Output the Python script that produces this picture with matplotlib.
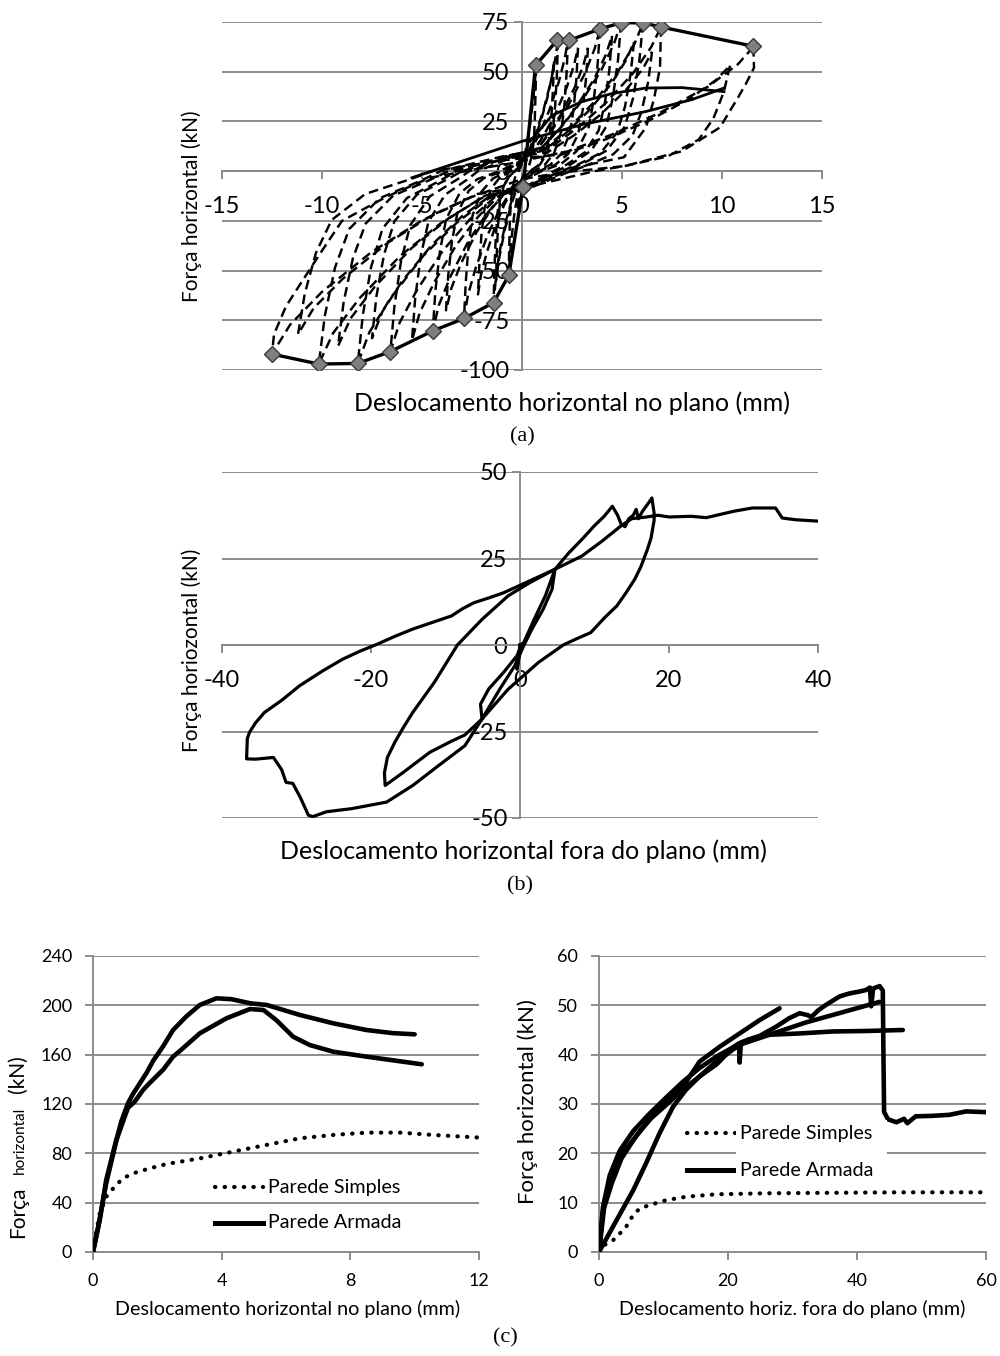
import matplotlib
matplotlib.use("Agg")
import matplotlib.pyplot as plt
from matplotlib.patches import Rectangle

plt.rcParams['font.family'] = ['Lato', 'DejaVu Sans']
plt.rcParams['axes.unicode_minus'] = False

W, H = 1000, 1356
GRID = '#8c8c8c'

# ---------------- panel (a): in-plane cyclic test ----------------
env_pos = [(0.05, -8), (0.68, 53.2), (1.77, 66), (2.33, 65.7), (3.9, 71.5),
           (4.95, 74.6), (6.05, 74.6), (6.95, 72.5), (11.57, 62.8)]
env_neg = [(0.05, -8), (-0.66, -52.4), (-1.42, -66.1), (-2.9, -74.1), (-4.46, -80.3),
           (-6.58, -90.7), (-8.21, -96.7), (-10.16, -97), (-12.5, -92)]

loop_1 = [(0.7, 53), (0.68, 39.8), (0.64, 26.5), (0.6, 15.9), (0.49, 7.4), (0.35, 2.7), (0.18, 0),
          (0.04, -2.6), (-0.13, -7.3), (-0.26, -14), (-0.4, -22.9), (-0.53, -34.3), (-0.61, -43.7),
          (-0.66, -52), (-0.64, -39), (-0.61, -26), (-0.56, -15.6), (-0.46, -7.3), (-0.33, -2.6),
          (-0.17, 0), (-0.03, 3.2), (0.14, 8.5), (0.28, 15.9), (0.42, 24.9), (0.56, 36),
          (0.65, 45.6), (0.7, 53)]
loop_2 = [(1.8, 66), (1.75, 49.5), (1.66, 33), (1.53, 19.8), (1.26, 9.2), (0.9, 3.3), (0.45, 0),
          (0.09, -3.3), (-0.28, -9.2), (-0.57, -17.8), (-0.85, -29), (-1.14, -43.6), (-1.32, -55.4),
          (-1.42, -66), (-1.38, -49.5), (-1.31, -33), (-1.21, -19.8), (-0.99, -9.2), (-0.71, -3.3),
          (-0.36, 0), (-0.07, 4), (0.36, 10.6), (0.72, 19.8), (1.08, 31), (1.44, 44.9),
          (1.67, 56.8), (1.8, 66)]
loop_3 = [(2.3, 66), (2.23, 49.5), (2.12, 33), (1.96, 19.8), (1.61, 9.2), (1.15, 3.3), (0.58, 0),
          (0.12, -3.7), (-0.58, -10.4), (-1.16, -20), (-1.74, -32.6), (-2.32, -48.8), (-2.7, -62.2),
          (-2.9, -74), (-2.81, -55.5), (-2.67, -37), (-2.47, -22.2), (-2.03, -10.4), (-1.45, -3.7),
          (-0.73, 0), (-0.15, 4), (0.46, 10.6), (0.92, 19.8), (1.38, 31), (1.84, 44.9),
          (2.14, 56.8), (2.3, 66)]
loop_4 = [(3.9, 71.5), (3.78, 53.6), (3.59, 35.8), (3.32, 21.5), (2.73, 10), (1.95, 3.6), (0.98, 0),
          (0.2, -4), (-0.89, -11.2), (-1.78, -21.6), (-2.68, -35.2), (-3.57, -52.8), (-4.15, -67.2),
          (-4.46, -80), (-4.33, -60), (-4.1, -40), (-3.79, -24), (-3.12, -11.2), (-2.23, -4),
          (-1.12, 0), (-0.22, 4.3), (0.78, 11.4), (1.56, 21.5), (2.34, 33.6), (3.12, 48.6),
          (3.63, 61.5), (3.9, 71.5)]
loop_5 = [(4.95, 74.5), (4.8, 55.9), (4.55, 37.3), (4.21, 22.4), (3.47, 10.4), (2.48, 3.7),
          (1.73, 0), (0.4, -7.3), (-1.32, -12.7), (-2.63, -24.5), (-3.95, -39.9), (-5.26, -59.9),
          (-6.12, -76.2), (-6.58, -90.7), (-6.38, -68), (-6.05, -45.4), (-5.59, -27.2),
          (-4.61, -12.7), (-3.29, -4.5), (-2.63, 0), (-0.66, 7.5), (0.99, 11.9), (1.98, 22.4),
          (2.97, 35), (3.96, 50.7), (4.6, 64.1), (4.95, 74.5)]
loop_6 = [(6.05, 74.5), (5.87, 55.9), (5.57, 37.3), (5.14, 22.4), (4.24, 10.4), (3.03, 3.7),
          (2.12, 0), (0.48, -7.7), (-1.64, -13.5), (-3.28, -26.1), (-4.93, -42.5), (-6.57, -63.8),
          (-7.64, -81.2), (-8.21, -96.7), (-7.96, -72.5), (-7.55, -48.4), (-6.98, -29),
          (-5.75, -13.5), (-4.1, -4.8), (-3.28, 0), (-0.82, 7.5), (1.21, 11.9), (2.42, 22.4),
          (3.63, 35), (4.84, 50.7), (5.63, 64.1), (6.05, 74.5)]
loop_7 = [(6.95, 72.5), (6.9, 52), (6.6, 36.3), (6.2, 22), (5.1, 7), (3.48, 3.6), (2.43, 0),
          (0.56, -7.8), (-2.03, -13.6), (-4.06, -26.2), (-6.1, -42.7), (-8.13, -64), (-9.45, -81.5),
          (-10.16, -97), (-9.86, -72.8), (-9.35, -48.5), (-8.64, -29.1), (-7.11, -13.6),
          (-5.08, -4.9), (-4.06, 0), (-1.02, 7.3), (1.39, 11.6), (2.78, 21.8), (4.17, 34.1),
          (5.56, 49.3), (6.46, 62.4), (6.95, 72.5)]
loop_8 = [(11.57, 62.5), (11.6, 52), (11.2, 44), (10.8, 37), (9.9, 22), (8, 10), (5.1, 2.5),
          (1.9, -0.8), (0, -4), (-2.5, -12.9), (-5, -24.8), (-7.5, -40.5), (-10, -60.7),
          (-11.6, -77.3), (-12.5, -92), (-12.4, -82), (-11.8, -68), (-11.1, -57), (-10, -40),
          (-9, -25), (-6.8, -13), (-4.6, -3.3), (-2, 1.5), (-0.6, 3.8), (2.3, 10), (4.6, 18.8),
          (6.9, 29.4), (9.3, 42.5), (10.8, 53.8), (11.57, 62.5)]
loop_9 = [(1.6, 55), (1.55, 41.3), (1.47, 27.5), (1.36, 16.5), (1.12, 7.7), (0.8, 2.8), (0.4, 0),
          (0.08, -2.8), (-0.26, -7.7), (-0.52, -14.9), (-0.78, -24.2), (-1.04, -36.3), (-1.21, -46.2),
          (-1.3, -55), (-1.26, -41.3), (-1.2, -27.5), (-1.11, -16.5), (-0.91, -7.7), (-0.65, -2.8),
          (-0.33, 0), (-0.07, 3.3), (0.32, 8.8), (0.64, 16.5), (0.96, 25.9), (1.28, 37.4),
          (1.49, 47.3), (1.6, 55)]
loop_10 = [(3.3, 62), (3.2, 46.5), (3.04, 31), (2.81, 18.6), (2.31, 8.7), (1.65, 3.1), (0.83, 0),
           (0.17, -3.5), (-0.76, -9.8), (-1.52, -18.9), (-2.28, -30.8), (-3.04, -46.2), (-3.53, -58.8),
           (-3.8, -70), (-3.69, -52.5), (-3.5, -35), (-3.23, -21), (-2.66, -9.8), (-1.9, -3.5),
           (-0.95, 0), (-0.19, 3.7), (0.66, 9.9), (1.32, 18.6), (1.98, 29.1), (2.64, 42.2),
           (3.07, 53.3), (3.3, 62)]
loop_11 = [(5.6, 65), (5.43, 48.8), (5.15, 32.5), (4.76, 19.5), (3.92, 9.1), (2.8, 3.3), (1.96, 0),
           (0.45, -6.7), (-1.5, -11.8), (-3, -22.7), (-4.5, -37), (-6, -55.4), (-6.98, -70.6),
           (-7.5, -84), (-7.28, -63), (-6.9, -42), (-6.38, -25.2), (-5.25, -11.8), (-3.75, -4.2),
           (-3, 0), (-0.75, 6.5), (1.12, 10.4), (2.24, 19.5), (3.36, 30.6), (4.48, 44.2),
           (5.21, 55.9), (5.6, 65)]
loop_12 = [(10.4, 53), (10.09, 39.8), (9.57, 26.5), (8.84, 15.9), (7.28, 7.4), (5.2, 2.7),
           (3.64, 0), (0.83, -6.6), (-2.24, -11.5), (-4.48, -22.1), (-6.72, -36.1), (-8.96, -54.1),
           (-10.42, -68.9), (-11.2, -82), (-10.86, -61.5), (-10.3, -41), (-9.52, -24.6),
           (-7.84, -11.5), (-5.6, -4.1), (-4.48, 0), (-1.12, 5.3), (2.08, 8.5), (4.16, 15.9),
           (6.24, 24.9), (8.32, 36), (9.67, 45.6), (10.4, 53)]
loop_13 = [(6.5, 60), (6.31, 45), (5.98, 30), (5.53, 18), (4.55, 8.4), (3.25, 3), (2.28, 0),
           (0.52, -7), (-1.84, -12.3), (-3.68, -23.8), (-5.52, -38.7), (-7.36, -58.1), (-8.56, -73.9),
           (-9.2, -88), (-8.92, -66), (-8.46, -44), (-7.82, -26.4), (-6.44, -12.3), (-4.6, -4.4),
           (-3.68, 0), (-0.92, 6), (1.3, 9.6), (2.6, 18), (3.9, 28.2), (5.2, 40.8), (6.05, 51.6),
           (6.5, 60)]
loop_14 = [(4.5, 68), (4.37, 51), (4.14, 34), (3.83, 20.4), (3.15, 9.5), (2.25, 3.4), (1.58, 0),
           (0.36, -6.8), (-1.1, -11.9), (-2.2, -23), (-3.3, -37.4), (-4.4, -56.1), (-5.12, -71.4),
           (-5.5, -85), (-5.34, -63.8), (-5.06, -42.5), (-4.68, -25.5), (-3.85, -11.9), (-2.75, -4.3),
           (-2.2, 0), (-0.55, 6.8), (0.9, 10.9), (1.8, 20.4), (2.7, 32), (3.6, 46.2), (4.19, 58.5),
           (4.5, 68)]
loop_15 = [(2.8, 62), (2.72, 46.5), (2.58, 31), (2.38, 18.6), (1.96, 8.7), (1.4, 3.1), (0.7, 0),
           (0.14, -3.1), (-0.44, -8.7), (-0.88, -16.7), (-1.32, -27.3), (-1.76, -40.9), (-2.05, -52.1),
           (-2.2, -62), (-2.13, -46.5), (-2.02, -31), (-1.87, -18.6), (-1.54, -8.7), (-1.1, -3.1),
           (-0.55, 0), (-0.11, 3.7), (0.56, 9.9), (1.12, 18.6), (1.68, 29.1), (2.24, 42.2),
           (2.6, 53.3), (2.8, 62)]
loops_a = [loop_1, loop_2, loop_3, loop_4, loop_5, loop_6, loop_7, loop_8, loop_9, loop_10,
           loop_11, loop_12, loop_13, loop_14, loop_15]

solid_a1 = [(-5.5, -3.3), (-2.5, 6.7), (0, 15), (3, 23.4), (6.2, 30), (8.5, 36), (10.1, 41.8)]
solid_a2 = [(0.4, 15), (1.5, 28), (3, 35), (4.5, 39), (6.2, 41.8), (8, 42), (10.1, 40)]

# ---------------- panel (b): out-of-plane cyclic test ----------------
b_lens = [(0, 0), (0.5, 0.7), (1.9, 7.4), (3.4, 14.2), (4.7, 21.9), (4.3, 16.1), (3.1, 10.3),
          (1.6, 4.6), (0.5, -0.2), (-0.7, -6), (-2.7, -12.7), (-5.1, -21.4), (-5.3, -17.1),
          (-4.2, -12.7), (-2.2, -7.9), (-0.4, -3.1), (0.1, -0.5), (-0.4, -7), (0, 0)]
b_medium = [(-5.1, -21.4), (-7.4, -26), (-9.2, -27.8), (-12.1, -31), (-15.6, -36.7), (-18.1, -40.6),
            (-18.2, -37), (-17.8, -32.5), (-16.8, -28.1), (-15.7, -24), (-14.4, -19.5),
            (-11.5, -10.8), (-8.4, 0), (-5.1, 7.4), (-1.6, 14.2), (1.3, 18), (4.7, 21.9),
            (6.5, 26.5), (8.3, 30.5), (10, 34.5), (11.3, 37.2), (12.4, 40.1), (13.1, 37.5),
            (13.6, 34.8), (14.1, 34.2), (14.6, 36.5), (15.2, 37.5), (15.6, 39.2), (15.9, 36.5),
            (16.4, 38.5), (16.9, 40), (17.4, 41.5), (17.7, 42.5), (18, 38.2), (18, 36), (17.6, 31),
            (17.1, 27.6), (16.2, 22.5), (15.4, 19), (14.2, 15), (13, 11.3), (11.4, 8), (9.5, 3.6),
            (7.6, 1.8), (5.8, 0), (2.5, -5), (-1.6, -12.8), (-5.1, -21.4)]
b_big = [(-5.1, -21.4), (-7.4, -29.1), (-10.9, -34.8), (-14.4, -40.6), (-17.9, -45.4),
         (-22.6, -47.3), (-26, -48.2), (-27.8, -49.6), (-28.4, -49.2), (-29.5, -44), (-30.5, -40),
         (-31.4, -39.7), (-32, -36), (-33.1, -32.5), (-35.5, -33), (-36.7, -32.9), (-36.6, -27),
         (-36.3, -25.2), (-35.5, -22.5), (-34.3, -19.5), (-32, -16), (-29.6, -11.8), (-26.5, -7.5),
         (-23.8, -4.1), (-21.5, -1.8), (-19.2, 0.2), (-16.8, 2.5), (-14.4, 4.6), (-11.8, 6.5),
         (-9.2, 8.4), (-7.7, 10.5), (-6.2, 12.2), (-4.2, 13.6), (-2.2, 15.1), (0.76, 18),
         (4.7, 21.9), (8.3, 25.7), (11, 30), (13.6, 34.5), (15, 36.5), (17, 37), (18.5, 37.5),
         (20, 37), (23, 37.2), (25, 36.8), (28.8, 38.7), (31.2, 39.6), (34.3, 39.6), (35.2, 36.7),
         (37, 36.2), (40, 35.8)]

# ---------------- panel (c): monotonic tests ----------------
cl_simples = [(0, 0), (0.05, 9.5), (0.21, 31.2), (0.41, 44.7), (0.67, 52.9), (0.93, 59.7),
              (1.24, 63.7), (1.76, 67.8), (2.28, 71.3), (3.32, 75.9), (4.36, 81.4), (5.39, 86.8),
              (6.43, 92.2), (7.47, 94.9), (8.5, 96.8), (9.54, 96.8), (10.58, 94.9), (12.2, 92.5)]
cl_armada_1 = [(0, 0), (0.21, 25.8), (0.41, 58.3), (0.67, 85.4), (0.88, 105.8), (1.09, 120.7),
               (1.24, 128), (1.66, 145), (1.87, 155), (2.18, 166.8), (2.49, 180), (2.9, 191),
               (3.32, 200.3), (3.84, 205.7), (4.3, 205), (4.9, 201.6), (5.4, 200.3), (6.43, 192.2),
               (7.47, 185.4), (8.5, 180), (9.3, 177.5), (10.0, 176.5)]
cl_armada_2 = [(0, 0), (0.16, 20.3), (0.41, 55.6), (0.73, 90.8), (0.99, 110), (1.09, 117),
               (1.3, 122), (1.56, 131.5), (1.76, 137), (2.18, 147.8), (2.49, 158.4), (2.7, 163),
               (3.32, 177.3), (4.15, 189.5), (4.88, 197), (5.3, 196.2), (5.7, 188), (6.22, 174.6),
               (6.74, 167.8), (7.47, 162.4), (8.5, 158.4), (10.22, 152.2)]

cr_simples = [(0, 0), (1.1, 1.7), (2.2, 2.4), (3.2, 3.7), (4.2, 5.1), (5.3, 7.5), (6.3, 8.8),
              (7.8, 9.5), (10.4, 10.5), (13.5, 11.2), (18.2, 11.7), (25.9, 11.9), (36.2, 12.0),
              (46.6, 12.1), (61, 12.1)]
cr_armada_1 = [(0, 0), (0.6, 9), (1.65, 15.5), (3.2, 20.5), (5.3, 24.5), (7.8, 28), (10.4, 31.3),
               (13, 34.5), (15.6, 37.3), (18.2, 39.6), (20.8, 41.5), (23, 43), (24.9, 43.8),
               (27.5, 45.7), (29.5, 47.4), (31.1, 48.4), (32.4, 48), (32.9, 47.6), (34, 49),
               (35.2, 50.1), (37.3, 51.8), (38.8, 52.4), (40.4, 52.8), (41.4, 53.1), (42, 53.6),
               (42.2, 49.8), (42.5, 53.4), (43.5, 53.9), (44, 53), (44.1, 40), (44.2, 28.4),
               (44.8, 26.9), (46.1, 26.3), (47.3, 27.0), (47.8, 26.1), (49.1, 27.5), (51.7, 27.6),
               (54.3, 27.8), (56.9, 28.5), (61, 28.3)]
cr_armada_2 = [(0, 0), (0.6, 8), (1.65, 14.6), (3.2, 19.3), (5.3, 22.7), (7.8, 26.8), (10.4, 29.8),
               (13, 32.9), (15.6, 35.6), (18.2, 38), (20.8, 41.5), (21.7, 42.3), (21.8, 38.4),
               (22, 42.5), (25.9, 44), (31.1, 44.3), (36.2, 44.7), (41.4, 44.8), (47.1, 45.0)]
cr_armada_3 = [(0, 0), (2.7, 6.4), (5.3, 12.5), (7.3, 18), (9.4, 24.1), (11.5, 29.5), (13.5, 32.9),
               (15.6, 35.6), (18.2, 38.6), (21.8, 42), (32, 46.5), (43.5, 50.7)]
cr_armada_4 = [(0, 0), (0.8, 9), (2, 14), (3.5, 19), (6, 24), (8, 27), (10.4, 30.5), (13, 33.5),
               (15.6, 38.6), (18.7, 41.6), (21.8, 44.3), (24.9, 47), (28, 49.4)]


def xy(pts):
    return [p[0] for p in pts], [p[1] for p in pts]


def px_axes(fig, left, top, right, bottom):
    return fig.add_axes([left / W, 1 - bottom / H, (right - left) / W, (bottom - top) / H])


def style_axes(ax, xlim, ylim, xticks, yticks, fs, cross, xpad, ypad):
    ax.set_xlim(*xlim)
    ax.set_ylim(*ylim)
    ax.set_xticks(xticks)
    ax.set_yticks(yticks)
    ax.patch.set_visible(False)
    for s in ('top', 'right'):
        ax.spines[s].set_visible(False)
    if cross:
        ax.spines['left'].set_position(('data', 0))
        ax.spines['bottom'].set_position(('data', 0))
    for s in ('left', 'bottom'):
        ax.spines[s].set_color(GRID)
        ax.spines[s].set_linewidth(1.4)
    ax.tick_params(axis='both', colors=GRID, labelcolor='black', labelsize=fs,
                   length=6, width=1.4, direction='out')
    ax.tick_params(axis='x', pad=xpad)
    ax.tick_params(axis='y', pad=ypad)
    ax.yaxis.grid(True, color=GRID, lw=1.4)
    ax.set_axisbelow(True)


fig = plt.figure(figsize=(W / 100, H / 100), dpi=100)

# (a)
ax_a = px_axes(fig, 222, 22, 822, 370)
style_axes(ax_a, (-15, 15), (-100, 75), [-15, -10, -5, 0, 5, 10, 15],
           [-100, -75, -50, -25, 0, 25, 50, 75], 17, True, 12, 3)
for lp in loops_a:
    x, y = xy(lp)
    ax_a.plot(x, y, color='black', lw=1.75, ls=(0, (4, 2.2)), zorder=3)
for sl in (solid_a1, solid_a2):
    x, y = xy(sl)
    ax_a.plot(x, y, color='black', lw=2.0, zorder=3)
for env in (env_pos, env_neg):
    x, y = xy(env)
    ax_a.plot(x, y, color='black', lw=2.4, zorder=4)
    ax_a.plot(x, y, ls='none', marker='D', ms=8.5, mfc='#7f7f7f', mec='#3a3a3a',
              mew=1.0, zorder=5)
fig.text(572 / W, 1 - 403 / H, 'Deslocamento horizontal no plano (mm)', fontsize=18,
         ha='center', va='center')
fig.text(192 / W, 1 - 206 / H, 'Força horizontal (kN)', fontsize=15, rotation=90,
         ha='center', va='center')
fig.text(522 / W, 1 - 437 / H, '(a)', fontsize=16, family='Liberation Serif',
         ha='center', va='center')

# (b)
ax_b = px_axes(fig, 222, 472, 818, 818)
style_axes(ax_b, (-40, 40), (-50, 50), [-40, -20, 0, 20, 40], [-50, -25, 0, 25, 50],
           17, True, 12, 3)
for seg in (b_lens, b_medium, b_big):
    x, y = xy(seg)
    ax_b.plot(x, y, color='black', lw=2.3, zorder=3, solid_joinstyle='round')
fig.text(523 / W, 1 - 851 / H, 'Deslocamento horizontal fora do plano (mm)', fontsize=18,
         ha='center', va='center')
fig.text(192 / W, 1 - 650 / H, 'Força horiozontal (kN)', fontsize=15, rotation=90,
         ha='center', va='center')
fig.text(520 / W, 1 - 886 / H, '(b)', fontsize=16, family='Liberation Serif',
         ha='center', va='center')

DOT = (0, (0.1, 2.2))

# (c) left
ax_cl = px_axes(fig, 93, 956, 479, 1252)
style_axes(ax_cl, (0, 12), (0, 240), [0, 4, 8, 12], [0, 40, 80, 120, 160, 200, 240],
           13, False, 9, 9)
x, y = xy(cl_simples)
ax_cl.plot(x, y, color='black', lw=3.0, ls=DOT, dash_capstyle='round', zorder=3)
for cv in (cl_armada_1, cl_armada_2):
    x, y = xy(cv)
    ax_cl.plot(x, y, color='black', lw=3.3, zorder=3, solid_capstyle='round')
fig.text(288 / W, 1 - 1309 / H, 'Deslocamento horizontal no plano (mm)', fontsize=14.2,
         ha='center', va='center')
fig.text(24 / W, 1 - 1212 / H, 'Força', fontsize=15, rotation=90, rotation_mode='anchor',
         ha='center', va='baseline')
fig.text(24 / W, 1 - 1140 / H, 'horizontal', fontsize=11, rotation=90, rotation_mode='anchor',
         ha='center', va='baseline')
fig.text(24 / W, 1 - 1074 / H, '(kN)', fontsize=15, rotation=90, rotation_mode='anchor',
         ha='center', va='baseline')

# (c) right
ax_cr = px_axes(fig, 599, 956, 986, 1252)
style_axes(ax_cr, (0, 60), (0, 60), [0, 20, 40, 60], [0, 10, 20, 30, 40, 50, 60],
           13, False, 9, 9)
x, y = xy(cr_simples)
ax_cr.plot(x, y, color='black', lw=3.0, ls=DOT, dash_capstyle='round', zorder=3)
for cv in (cr_armada_1, cr_armada_2, cr_armada_3, cr_armada_4):
    x, y = xy(cv)
    ax_cr.plot(x, y, color='black', lw=3.3, zorder=3, solid_capstyle='round')
fig.text(792 / W, 1 - 1309 / H, 'Deslocamento horiz. fora do plano (mm)', fontsize=14.2,
         ha='center', va='center')
fig.text(534 / W, 1 - 1102 / H, 'Força horizontal (kN)', fontsize=16, rotation=90,
         rotation_mode='anchor', ha='center', va='baseline')
fig.text(505 / W, 1 - 1338 / H, '(c)', fontsize=16, family='Liberation Serif',
         ha='center', va='center')

# manual legends (c)
fig.patches.append(Rectangle((736 / W, 1 - 1180 / H), 151 / W, 60 / H, transform=fig.transFigure,
                             facecolor='white', edgecolor='none', zorder=2))
for (x0, x1, ys, ya, tx) in ((215, 263, 1187, 1223, 268), (687, 735, 1133, 1170, 740)):
    fig.add_artist(plt.Line2D([x0 / W, x1 / W], [1 - ys / H, 1 - ys / H], color='black', lw=3.0,
                              ls=DOT, dash_capstyle='round', transform=fig.transFigure))
    fig.add_artist(plt.Line2D([x0 / W, x1 / W], [1 - ya / H, 1 - ya / H], color='black', lw=3.6,
                              transform=fig.transFigure))
    fig.text(tx / W, 1 - ys / H, 'Parede Simples', fontsize=14.2, ha='left', va='center')
    fig.text(tx / W, 1 - ya / H, 'Parede Armada', fontsize=14.2, ha='left', va='center')

fig.savefig('out.png', dpi=100)
